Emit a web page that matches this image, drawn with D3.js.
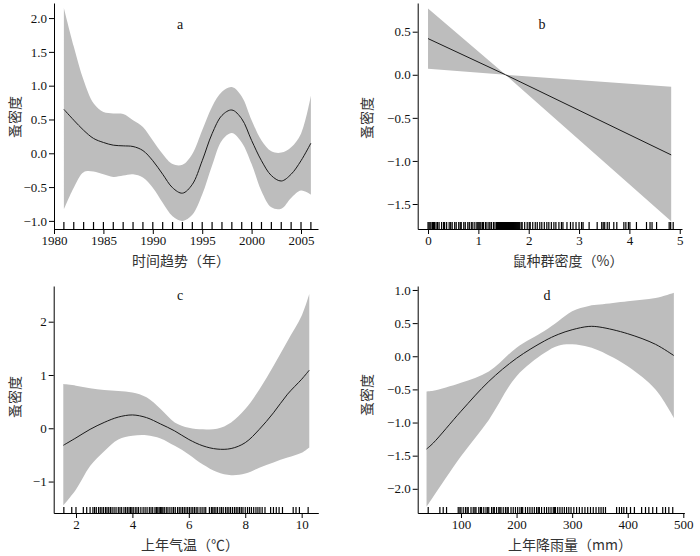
<!DOCTYPE html>
<html>
<head>
<meta charset="utf-8">
<script src="https://cdn.jsdelivr.net/npm/d3@7/dist/d3.min.js"></script>
<style>
  body { margin: 0; background: #fff; }
  svg { display: block; }
</style>
</head>
<body>
<svg id="chart" width="700" height="556"></svg>
<script>
// ---------- DATA ----------
// Panel a: time trend (year)
const yearsA = [1981,1982,1983,1984,1985,1986,1987,1988,1989,1990,1991,1992,1993,1994,1995,1996,1997,1998,1999,2000,2001,2002,2003,2004,2005,2006];
const fitA   = [0.65,0.49,0.34,0.22,0.16,0.12,0.11,0.10,0.04,-0.11,-0.31,-0.51,-0.59,-0.46,-0.11,0.29,0.56,0.64,0.51,0.19,-0.11,-0.33,-0.41,-0.31,-0.11,0.15];
const upA    = [2.15,1.58,1.08,0.74,0.61,0.59,0.58,0.49,0.39,0.19,-0.01,-0.16,-0.17,-0.01,0.34,0.69,0.91,0.98,0.84,0.49,0.19,0.03,0.01,0.09,0.29,0.85];
const loA    = [-0.83,-0.51,-0.28,-0.27,-0.31,-0.35,-0.33,-0.31,-0.36,-0.51,-0.73,-0.93,-1.00,-0.91,-0.61,-0.18,0.19,0.30,0.16,-0.16,-0.56,-0.80,-0.82,-0.66,-0.55,-0.61];
const rugA   = [1981,1982,1983,1984,1985,1986,1987,1988,1989,1990,1991,1992,1993,1994,1995,1996,1997,1998,1999,2000,2001,2002,2003,2004,2005,2006];
const ticksAx = [1980,1985,1990,1995,2000,2005];
const ticksAy = [-1.0,-0.5,0.0,0.5,1.0,1.5,2.0];

// Panel b: rodent population density (%)
const xB   = [0, 1.54, 4.83];
const fitB = [0.42, 0.0, -0.93];
const upB  = [0.77, 0.0, -0.14];
const loB  = [0.07, 0.0, -1.70];
const rugB = [0,0.02,0.04,0.06,0.09,0.11,0.13,0.16,0.19,0.22,0.27,0.31,0.33,0.37,0.42,0.45,0.48,0.53,0.56,0.61,0.64,0.66,0.71,0.74,0.79,0.82,0.86,0.89,0.93,0.97,0.99,1.01,1.03,1.05,1.08,1.10,1.14,1.17,1.21,1.23,1.26,1.30,1.33,1.36,1.38,1.40,1.42,1.44,1.46,1.48,1.50,1.52,1.54,1.56,1.58,1.60,1.62,1.64,1.66,1.68,1.70,1.72,1.74,1.76,1.78,1.80,1.82,1.85,1.87,1.92,1.97,2.01,2.03,2.08,2.13,2.17,2.22,2.26,2.31,2.36,2.40,2.45,2.50,2.54,2.60,2.65,2.68,2.76,2.83,2.88,2.94,3.00,3.05,3.08,3.20,3.36,3.45,3.48,3.51,3.56,3.60,3.69,3.75,3.89,3.93,3.98,4.01,4.14,4.34,4.41,4.45,4.54,4.79,4.82,4.87];
const ticksBx = [0,1,2,3,4,5];
const ticksBy = [-1.5,-1.0,-0.5,0.0,0.5];

// Panel c: previous-year temperature (°C)
const xC   = [1.55,2.0,2.5,3.0,3.5,4.0,4.5,5.0,5.5,6.0,6.5,7.0,7.5,8.0,8.5,9.0,9.5,10.0,10.27];
const fitC = [-0.32,-0.18,-0.02,0.11,0.21,0.25,0.20,0.08,-0.05,-0.21,-0.33,-0.39,-0.38,-0.27,-0.02,0.29,0.64,0.92,1.09];
const upC  = [0.83,0.80,0.75,0.72,0.70,0.67,0.58,0.36,0.11,0.01,-0.02,-0.01,0.11,0.36,0.73,1.17,1.64,2.11,2.52];
const loC  = [-1.45,-1.15,-0.71,-0.43,-0.21,-0.14,-0.13,-0.19,-0.33,-0.49,-0.68,-0.82,-0.88,-0.85,-0.74,-0.64,-0.55,-0.46,-0.36];
const rugC = [1.57,1.85,2.0,2.26,2.38,2.5,2.6,2.66,2.72,2.8,2.86,2.92,2.98,3.05,3.1,3.16,3.22,3.28,3.35,3.42,3.5,3.56,3.62,3.7,3.76,3.82,3.88,3.93,3.98,4.03,4.1,4.16,4.22,4.3,4.38,4.45,4.52,4.6,4.66,4.72,4.8,4.85,4.9,4.95,5.0,5.04,5.08,5.13,5.2,5.26,5.33,5.4,5.46,5.52,5.6,5.66,5.72,5.78,5.84,5.9,5.96,6.02,6.08,6.14,6.2,6.26,6.32,6.4,6.47,6.54,6.6,6.73,6.8,6.85,6.9,6.96,7.02,7.1,7.16,7.22,7.3,7.36,7.42,7.48,7.55,7.62,7.68,7.74,7.8,7.86,7.92,8.0,8.08,8.15,8.22,8.3,8.38,8.45,8.52,8.6,8.7,8.9,9.0,9.1,9.2,9.32,9.7,9.8,9.92,10.23];
const ticksCx = [2,4,6,8,10];
const ticksCy = [-1,0,1,2];

// Panel d: previous-year rainfall (mm)
const xD   = [38,50,100,150,200,250,275,300,330,350,400,450,483];
const fitD = [-1.40,-1.31,-0.83,-0.38,-0.03,0.23,0.33,0.40,0.45,0.44,0.34,0.18,0.01];
const upD  = [-0.53,-0.52,-0.40,-0.23,0.13,0.38,0.53,0.68,0.76,0.78,0.83,0.88,0.96];
const loD  = [-2.27,-2.12,-1.51,-0.96,-0.30,0.05,0.16,0.18,0.14,0.08,-0.15,-0.50,-0.93];
const rugD = [41,62,68,74,95,98,100,104,108,111,113,118,122,125,127,132,135,137,141,145,148,150,155,158,160,164,168,170,172,176,180,183,185,190,194,198,202,206,209,211,216,220,224,228,232,236,239,241,245,250,254,258,262,266,268,270,274,278,282,286,290,294,298,303,308,313,318,323,328,333,338,343,348,352,356,360,380,385,389,393,398,405,412,425,432,438,445,452,463,468,474,481];
const ticksDx = [100,200,300,400,500];
const ticksDy = [-2.0,-1.5,-1.0,-0.5,0.0,0.5,1.0];

// ---------- LAYOUT ----------
const panels = [
  { letter: "a", x: yearsA, fit: fitA, up: upA, lo: loA, rug: rugA, tx: ticksAx, ty: ticksAy,
    xdom: [1980, 2006.72], xr: [54, 318], ydom: [-1.12, 2.223], yr: [229, 3],
    yfmt: d3.format(".1f"), xfmt: d3.format("d"), curve: d3.curveCatmullRom.alpha(0.5),
    xlabel: "时间趋势（年）", xlabX: 181, xlabY: 266, ylabX: 15, ylabY: 117, letX: 180, letY: 24, rugH: 7 },
  { letter: "b", x: xB, fit: fitB, up: upB, lo: loB, rug: rugB, tx: ticksBx, ty: ticksBy,
    xdom: [-0.205, 5.045], xr: [417.7, 682], ydom: [-1.79, 0.833], yr: [229, 3],
    yfmt: d3.format(".1f"), xfmt: d3.format("d"), curve: d3.curveLinear,
    xlabel: "鼠种群密度（%）", xlabX: 568, xlabY: 266, ylabX: 367, ylabY: 118, letX: 542, letY: 24, rugH: 7 },
  { letter: "c", x: xC, fit: fitC, up: upC, lo: loC, rug: rugC, tx: ticksCx, ty: ticksCy,
    xdom: [1.21, 10.59], xr: [53.7, 318.3], ydom: [-1.59, 2.67], yr: [513, 286],
    yfmt: d3.format("d"), xfmt: d3.format("d"), curve: d3.curveCatmullRom.alpha(0.5),
    xlabel: "上年气温（℃）", xlabX: 190, xlabY: 550, ylabX: 15, ylabY: 397, letX: 180, letY: 295, rugH: 6 },
  { letter: "d", x: xD, fit: fitD, up: upD, lo: loD, rug: rugD, tx: ticksDx, ty: ticksDy,
    xdom: [22.1, 501.8], xr: [417.7, 684.3], ydom: [-2.365, 1.06], yr: [513, 286],
    yfmt: d3.format(".1f"), xfmt: d3.format("d"), curve: d3.curveCatmullRom.alpha(0.5),
    xlabel: "上年降雨量（mm）", xlabX: 570, xlabY: 550, ylabX: 367, ylabY: 395, letX: 547, letY: 295, rugH: 6 }
];

const svg = d3.select("#chart");
const serif = "'Liberation Serif','DejaVu Serif',serif";
const cjk = "'Noto Sans CJK SC','Noto Sans CJK JP',sans-serif";
const minusFmt = f => (v => f(v).replace("-", "\u2212"));

panels.forEach(p => {
  const x = d3.scaleLinear().domain(p.xdom).range(p.xr);
  const y = d3.scaleLinear().domain(p.ydom).range(p.yr);
  const g = svg.append("g");
  const rows = p.x.map((v, i) => ({ x: v, fit: p.fit[i], up: p.up[i], lo: p.lo[i] }));

  // confidence band
  g.append("path")
    .datum(rows)
    .attr("fill", "#bdbdbd")
    .attr("stroke", "none")
    .attr("d", d3.area().curve(p.curve).x(d => x(d.x)).y0(d => y(d.lo)).y1(d => y(d.up)));

  // fitted line
  g.append("path")
    .datum(rows)
    .attr("fill", "none")
    .attr("stroke", "#1a1a1a")
    .attr("stroke-width", 1)
    .attr("d", d3.line().curve(p.curve).x(d => x(d.x)).y(d => y(d.fit)));

  // rug
  const y0 = p.yr[0];
  g.append("g").selectAll("line").data(p.rug).join("line")
    .attr("x1", d => x(d)).attr("x2", d => x(d))
    .attr("y1", y0).attr("y2", y0 - p.rugH)
    .attr("stroke", "#000").attr("stroke-width", 1.2);

  // axes
  const xa = g.append("g").attr("transform", `translate(0,${y0})`)
    .call(d3.axisBottom(x).tickValues(p.tx).tickFormat(p.xfmt).tickSize(5).tickSizeOuter(0).tickPadding(2));
  const ya = g.append("g").attr("transform", `translate(${p.xr[0]},0)`)
    .call(d3.axisLeft(y).tickValues(p.ty).tickFormat(minusFmt(p.yfmt)).tickSize(5).tickSizeOuter(0).tickPadding(2));
  [xa, ya].forEach(a => {
    a.selectAll("text").attr("font-family", serif).attr("font-size", 13).attr("fill", "#111");
    a.selectAll("path,line").attr("stroke", "#000").attr("stroke-width", 1);
  });

  // labels
  g.append("text").attr("x", p.xlabX).attr("y", p.xlabY)
    .attr("text-anchor", "middle").attr("font-family", cjk).attr("font-size", 14)
    .attr("fill", "#333").text(p.xlabel);
  g.append("text").attr("transform", `translate(${p.ylabX},${p.ylabY}) rotate(-90)`)
    .attr("dy", "0.35em").attr("text-anchor", "middle").attr("font-family", cjk)
    .attr("font-size", 14).attr("fill", "#333").text("蚤密度");
  g.append("text").attr("x", p.letX).attr("y", p.letY).attr("dy", "0.35em")
    .attr("text-anchor", "middle").attr("font-family", serif).attr("font-size", 14)
    .attr("fill", "#111").text(p.letter);
});
</script>
</body>
</html>
